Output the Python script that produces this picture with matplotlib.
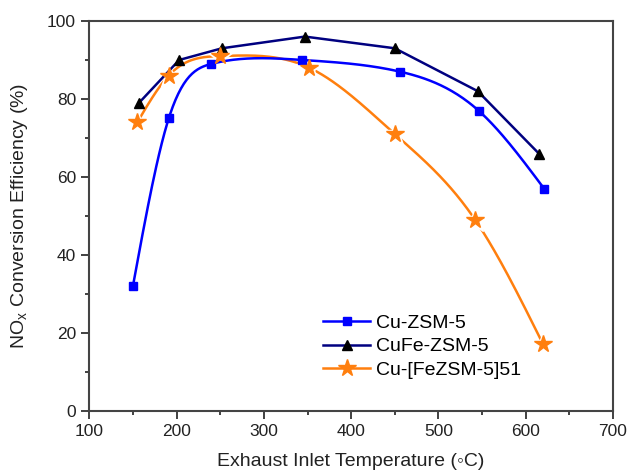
import numpy as np
import matplotlib
matplotlib.use("Agg")
import matplotlib.pyplot as plt
from matplotlib.ticker import MultipleLocator

plt.rcParams['font.family'] = ['Liberation Sans', 'DejaVu Sans']
plt.rcParams['mathtext.fontset'] = 'custom'
plt.rcParams['mathtext.rm'] = 'Liberation Sans'

# Data
cu_x = [150, 191, 240, 344, 456, 546, 621]
cu_y = [32, 75, 89, 90, 87, 77, 57]
cufe_x = [157, 203, 252, 347, 450, 545, 615]
cufe_y = [79, 90, 93, 96, 93, 82, 66]
cufe51_x = [155, 191, 250, 352, 450, 542, 620]
cufe51_y = [74, 86, 91, 88, 71, 49, 17]


def natural_spline(x, y, n=300):
    x = np.asarray(x, float)
    y = np.asarray(y, float)
    k = len(x)
    h = np.diff(x)
    A = np.zeros((k, k))
    b = np.zeros(k)
    A[0, 0] = 1
    A[-1, -1] = 1
    for i in range(1, k - 1):
        A[i, i - 1] = h[i - 1]
        A[i, i] = 2 * (h[i - 1] + h[i])
        A[i, i + 1] = h[i]
        b[i] = 6 * ((y[i + 1] - y[i]) / h[i] - (y[i] - y[i - 1]) / h[i - 1])
    M = np.linalg.solve(A, b)
    xs = np.linspace(x[0], x[-1], n)
    ys = np.empty_like(xs)
    for j, xv in enumerate(xs):
        i = min(np.searchsorted(x, xv) - 1, k - 2)
        i = max(i, 0)
        t1 = x[i + 1] - xv
        t2 = xv - x[i]
        hi = h[i]
        ys[j] = (M[i] * t1 ** 3 / (6 * hi) + M[i + 1] * t2 ** 3 / (6 * hi)
                 + (y[i] / hi - M[i] * hi / 6) * t1
                 + (y[i + 1] / hi - M[i + 1] * hi / 6) * t2)
    return xs, ys


fig = plt.figure(figsize=(6.31, 4.74), dpi=100)
ax = fig.add_axes([0.1415, 0.1335, 0.9715 - 0.1415, 0.9557 - 0.1335])

blue = '#0000FF'
navy = '#000080'
orange = '#FF7F0E'

# Cu-ZSM-5
sx, sy = natural_spline(cu_x, cu_y)
ax.plot(sx, sy, color=blue, lw=1.8, zorder=3)
ax.plot(cu_x, cu_y, ls='none', marker='s', ms=6, color=blue, zorder=4)

# CuFe-ZSM-5
ax.plot(cufe_x, cufe_y, color=navy, lw=1.8, zorder=3)
ax.plot(cufe_x, cufe_y, ls='none', marker='^', ms=7, color='black', zorder=4)

# Cu-[FeZSM-5]51
sx, sy = natural_spline(cufe51_x, cufe51_y)
ax.plot(sx, sy, color=orange, lw=1.8, zorder=2)
ax.plot(cufe51_x, cufe51_y, ls='none', marker='*', ms=19, color='white', zorder=2.5)
ax.plot(cufe51_x, cufe51_y, ls='none', marker='*', ms=13, color=orange, zorder=4)

# legend proxies
h1, = ax.plot([], [], color=blue, lw=1.8, marker='s', ms=6)
h2, = ax.plot([], [], color=navy, lw=1.8, marker='^', ms=7, mfc='black', mec='black')
h3, = ax.plot([], [], color=orange, lw=1.8, marker='*', ms=13)
ax.legend([h1, h2, h3], ['Cu-ZSM-5', 'CuFe-ZSM-5', 'Cu-[FeZSM-5]51'],
          loc='lower left', bbox_to_anchor=(0.432, 0.062), frameon=False,
          fontsize=14, handlelength=2.4, handletextpad=0.3, labelspacing=0.3,
          borderaxespad=0)

ax.set_xlim(100, 700)
ax.set_ylim(0, 100)
ax.xaxis.set_major_locator(MultipleLocator(100))
ax.xaxis.set_minor_locator(MultipleLocator(50))
ax.yaxis.set_major_locator(MultipleLocator(20))
ax.yaxis.set_minor_locator(MultipleLocator(10))
ax.tick_params(which='both', direction='out', top=False, right=False,
               labelsize=12.5, colors='#333333', labelcolor='#222222', width=1.3)
ax.tick_params(which='major', length=6)
ax.tick_params(which='minor', length=3)
for s in ax.spines.values():
    s.set_color('#444444')
    s.set_linewidth(1.5)

ax.set_xlabel('Exhaust Inlet Temperature (\u25e6C)', fontsize=14, color='#222222',
              labelpad=10)
ax.set_ylabel('NO$_\\mathrm{x}$ Conversion Efficiency (%)', fontsize=14, color='#222222',
              labelpad=12)

fig.savefig('out.png', dpi=100)
